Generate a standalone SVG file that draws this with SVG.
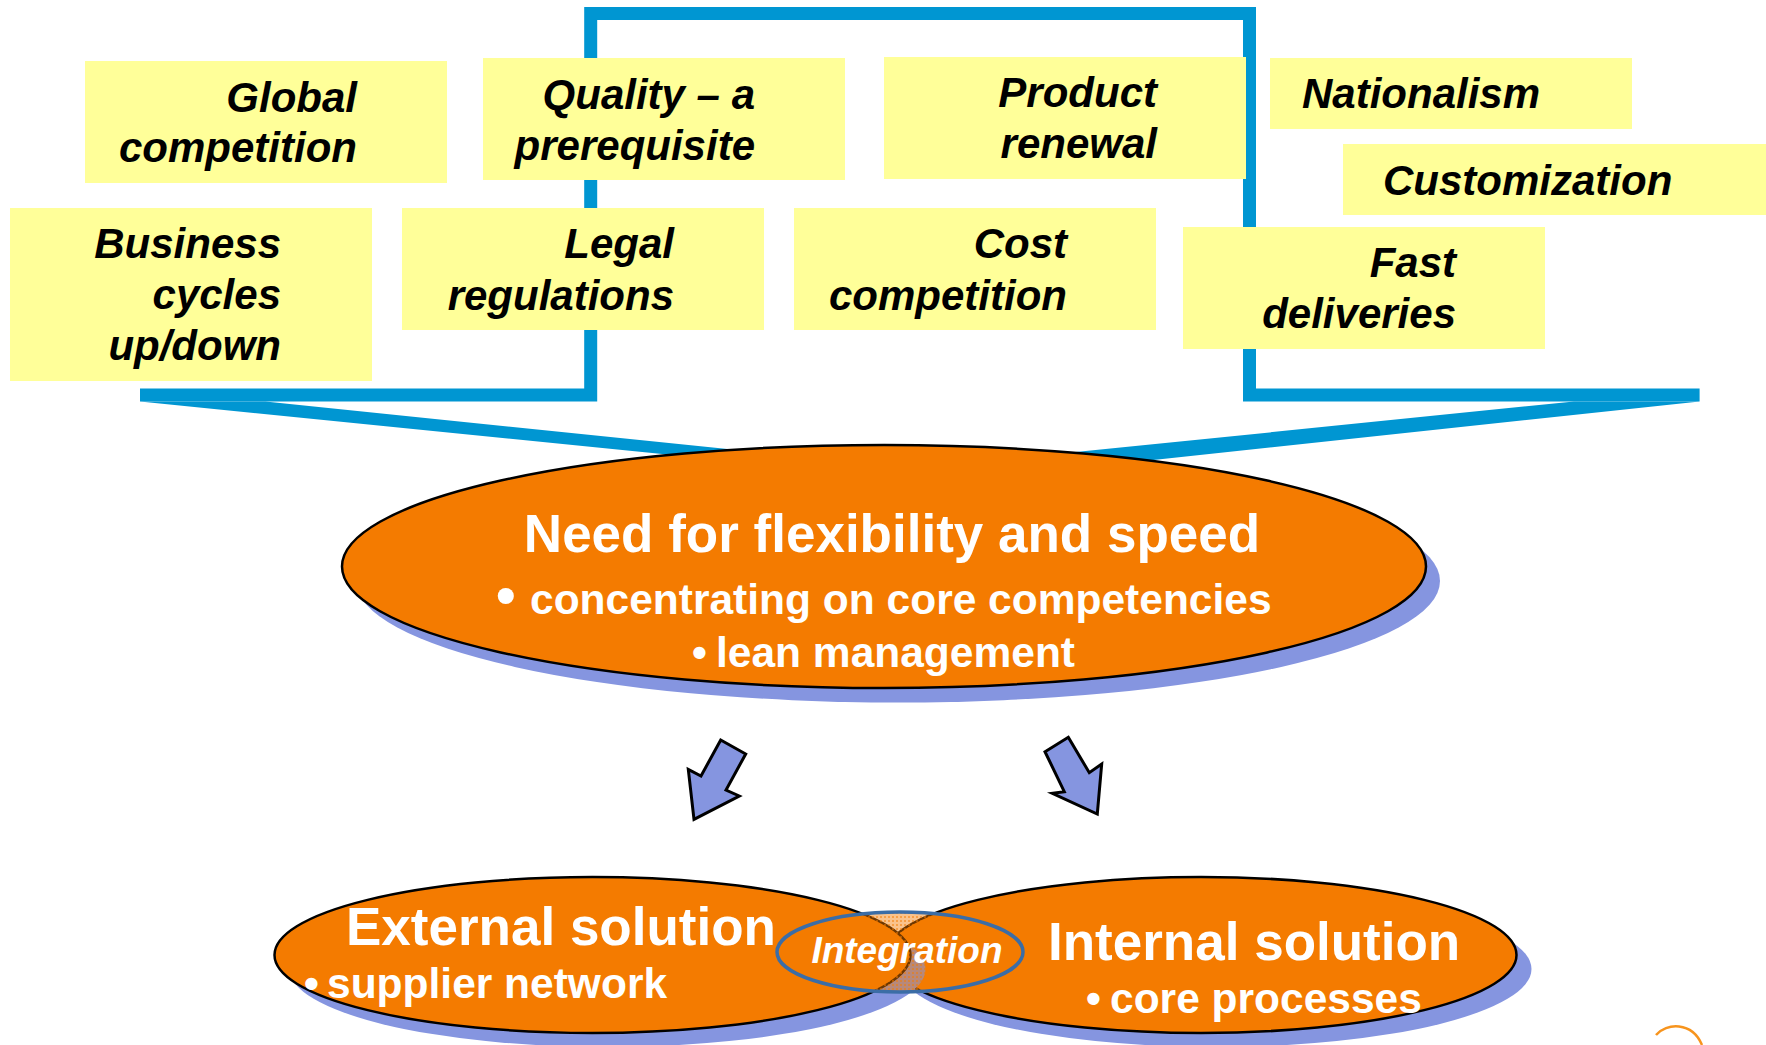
<svg xmlns="http://www.w3.org/2000/svg" width="1766" height="1045" viewBox="0 0 1766 1045">
<defs>
<style>
.box{fill:#FFFF99;}
.bt{font-family:"Liberation Sans",Arial,sans-serif;font-weight:bold;font-style:italic;font-size:42px;fill:#000;}
.bt.e{text-anchor:end;}
.bracket{fill:none;stroke:#0096D2;stroke-width:13;stroke-linejoin:miter;stroke-miterlimit:10;}
.band{fill:#0096D2;}
.arrow{fill:#8595E0;stroke:#000;stroke-width:3;stroke-linejoin:miter;}
.shadow{fill:#8595E0;}
.oval{fill:#F47B00;stroke:#000;stroke-width:2.5;}
.wt{font-family:"Liberation Sans",Arial,sans-serif;font-weight:bold;fill:#FFFFFF;}
.big{font-size:53px;}
.mid{font-size:42.5px;}
</style>
<pattern id="dots" width="4" height="4" patternUnits="userSpaceOnUse">
<rect width="4" height="4" fill="#F47B00" fill-opacity="0.45"/>
<rect width="2" height="2" fill="#F47B00" fill-opacity="0.5"/>
</pattern>
</defs>
<rect width="1766" height="1045" fill="#FFFFFF"/>

<g id="connectors">
<polyline class="bracket" points="140,395 590.7,395 590.7,13.4 1249.5,13.4 1249.5,395 1699.6,395"/>
<polygon class="band" points="140,401.5 265.4,401.5 820,458.6 820,470"/>
<polygon class="band" points="1574,401.5 1699.6,401.5 960,480.7 960,463.8"/>
<polygon class="arrow" points="720.7,740 745.7,754 726,790 739.3,796 694,819.3 688.3,769.3 701,776"/>
<polygon class="arrow" points="1068.3,737.3 1089.3,772.7 1101.7,764 1097.3,814 1052.3,793.3 1064.3,791.7 1045,751.7"/>
</g>

<g id="node-global">
<rect class="box" x="85" y="61" width="362" height="122"/>
<text class="bt e" x="357" y="112">Global</text>
<text class="bt e" x="357" y="162">competition</text>
</g>
<g id="node-quality">
<rect class="box" x="483" y="58" width="362" height="122"/>
<text class="bt e" x="755" y="109">Quality – a</text>
<text class="bt e" x="755" y="160">prerequisite</text>
</g>
<g id="node-product">
<rect class="box" x="884" y="57" width="362" height="122"/>
<text class="bt e" x="1157" y="107">Product</text>
<text class="bt e" x="1157" y="158">renewal</text>
</g>
<g id="node-nationalism">
<rect class="box" x="1270" y="58" width="362" height="71"/>
<text class="bt" x="1302" y="108">Nationalism</text>
</g>
<g id="node-customization">
<rect class="box" x="1343" y="144" width="423" height="71"/>
<text class="bt" x="1383" y="195">Customization</text>
</g>
<g id="node-business">
<rect class="box" x="10" y="208" width="362" height="173"/>
<text class="bt e" x="281" y="258">Business</text>
<text class="bt e" x="281" y="309">cycles</text>
<text class="bt e" x="281" y="360">up/down</text>
</g>
<g id="node-legal">
<rect class="box" x="402" y="208" width="362" height="122"/>
<text class="bt e" x="674" y="258">Legal</text>
<text class="bt e" x="674" y="310">regulations</text>
</g>
<g id="node-cost">
<rect class="box" x="794" y="208" width="362" height="122"/>
<text class="bt e" x="1067" y="258">Cost</text>
<text class="bt e" x="1067" y="310">competition</text>
</g>
<g id="node-fast">
<rect class="box" x="1183" y="227" width="362" height="122"/>
<text class="bt e" x="1456" y="277">Fast</text>
<text class="bt e" x="1456" y="328">deliveries</text>
</g>

<g id="node-need">
<ellipse class="shadow" cx="898" cy="581" rx="542" ry="121.5"/>
<ellipse class="oval" cx="884" cy="566.5" rx="542" ry="121.5"/>
<text class="wt big" x="892" y="552" text-anchor="middle">Need for flexibility and speed</text>
<text class="wt mid" y="614"><tspan x="496" font-size="56">•</tspan><tspan x="530">concentrating on core competencies</tspan></text>
<text class="wt mid" y="667"><tspan x="692">•</tspan><tspan x="716">lean management</tspan></text>
</g>

<g id="node-internal">
<ellipse class="shadow" cx="1216" cy="969" rx="315.5" ry="78"/>
<ellipse class="oval" cx="1201" cy="955" rx="315.5" ry="78"/>
</g>
<g id="node-external">
<ellipse class="shadow" cx="607.5" cy="969" rx="318" ry="78"/>
<ellipse class="oval" cx="592.5" cy="955" rx="318" ry="78"/>
<text class="wt big" x="346" y="945">External solution</text>
<text class="wt mid" y="998"><tspan x="304">•</tspan><tspan x="327">supplier network</tspan></text>
</g>
<g id="node-internal-text">
<text class="wt big" x="1048" y="960">Internal solution</text>
<text class="wt mid" y="1013"><tspan x="1086">•</tspan><tspan x="1110">core processes</tspan></text>
</g>

<g id="node-integration">
<ellipse cx="900" cy="952" rx="123" ry="40" fill="url(#dots)" stroke="#3B6DA6" stroke-width="3.5"/>
<text class="wt" x="907" y="963" text-anchor="middle" font-size="37" font-style="italic">Integration</text>
</g>

<path d="M1656,1035 C1666,1023 1692,1021 1702,1045" fill="none" stroke="#F7941D" stroke-width="2.5"/>
</svg>
